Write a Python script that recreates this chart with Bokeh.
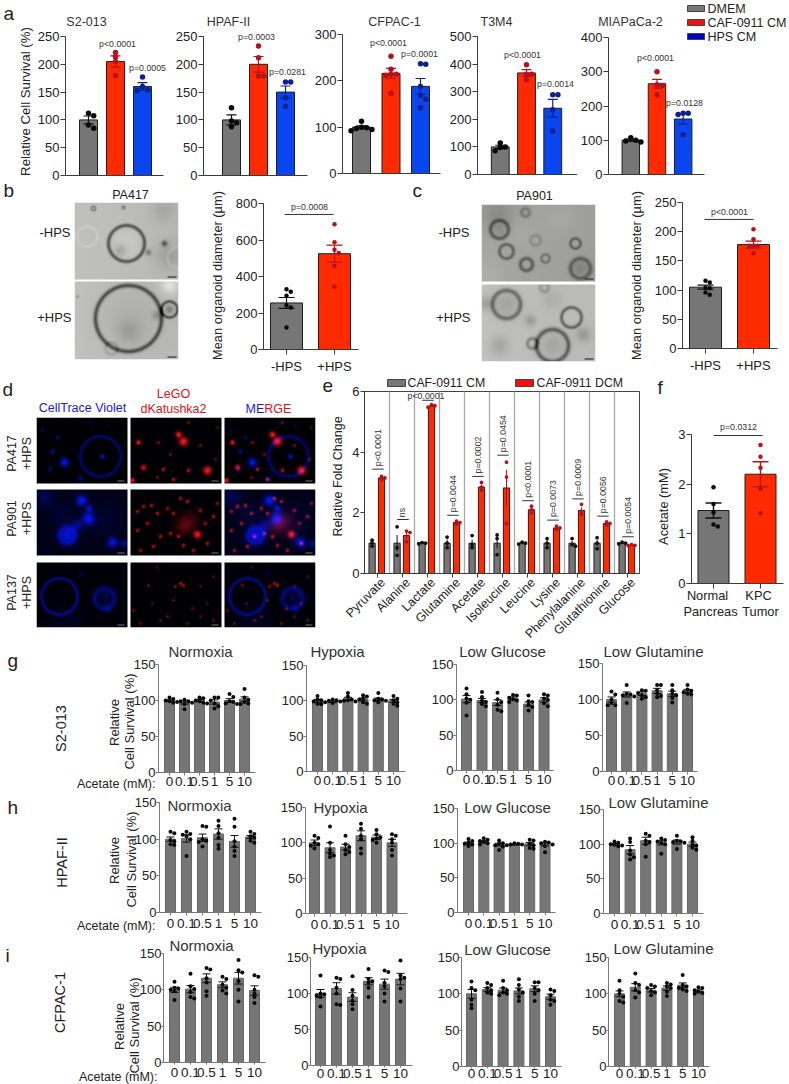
import math
import numpy as np
from bokeh.plotting import figure
from bokeh.layouts import row, column
from bokeh.embed import file_html
from bokeh.resources import INLINE
from bokeh.models import Range1d, FixedTicker, Label

FONT = "Liberation Sans"
GRAY, RED, BLUE = "#767676", "#ff2a00", "#0a46f0"
DOT_K, DOT_R, DOT_B = "#0a0a0a", "#b5121b", "#10218b"

# ---------- panel a data ----------
a_names = ["S2-013", "HPAF-II", "CFPAC-1", "T3M4", "MIAPaCa-2"]
a_legend = ["DMEM", "CAF-0911 CM", "HPS CM"]
s2013_means = [100, 205, 160]
s2013_sems = [7, 10, 7]
s2013_dots = [[112, 107.6, 91, 85], [221, 213, 205, 180], [177, 160, 154, 153]]
hpaf_means = [100, 200, 150]
hpaf_sems = [9, 14, 11]
hpaf_dots = [[122, 98, 95, 87.5], [233, 212, 179, 179], [168, 168, 140, 124]]
cfpac_means = [100, 216, 188]
cfpac_sems = [3, 11, 17]
cfpac_dots = [[113, 100, 99, 97, 95, 92], [253, 225, 214, 214, 212, 173], [237, 236, 188, 169, 160, 142]]
t3m4_means = [100, 368, 240]
t3m4_sems = [6, 12, 32]
t3m4_dots = [[114, 100, 98, 86], [398, 363, 363, 343], [289, 289, 235, 158]]
mia_means = [100, 265, 162]
mia_sems = [3, 13, 15]
mia_dots = [[107.5, 100, 98, 95], [300, 262, 260, 233], [179, 179, 175, 116]]

# ---------- panels b, c, f data ----------
b_means = [255, 525]
b_sems = [30, 47]
b_dots = [[330, 317, 294, 243, 230, 120], [686, 588, 546, 529, 458, 344]]
c_means = [105, 178]
c_sems = [3.5, 6]
c_dots = [[116, 113, 104, 103, 96, 92], [204, 187, 176, 176, 176, 163]]
f_means = [1.47, 2.2]
f_sems = [0.15, 0.25]
f_dots = [[1.94, 1.6, 1.43, 1.19, 1.15], [2.79, 2.55, 2.33, 1.91, 1.42]]

# ---------- panel e data ----------
e_names = ["Pyruvate", "Alanine", "Lactate", "Glutamine", "Acetate", "Isoleucine",
           "Leucine", "Lysine", "Phenylalanine", "Glutathionine", "Glucose"]
e_pvals = ["p<0.0001", "ns", "p<0.0001", "p=0.0044", "p=0.0002", "p=0.0454",
           "p<0.0001", "p=0.0073", "p=0.0009", "p=0.0056", "p=0.0054"]
e_bracket = [3.44, 1.78, 5.71, 1.92, 3.2, 3.9, 2.4, 1.76, 2.46, 1.89, 1.21]
e_gray_means = [1, 1, 1, 1, 1, 1, 1, 1, 1, 1, 1]
e_gray_sems = [.05, .27, .01, .12, .12, .18, .02, .1, .08, .1, .02]
e_gray_dots = [[1.1, 1.0, .9], [1.54, .85, .6], [1.02, 1.0, .98], [1.2, 1.0, .85], [1.25, .95, .85],
               [1.27, 1.15, .62], [1.03, 1.0, .97], [1.15, 1.0, .85], [1.15, .95, .9], [1.18, 1.0, .82], [1.03, 1.0, .98]]
e_red_means = [3.15, 1.25, 5.52, 1.68, 2.85, 2.82, 2.1, 1.5, 2.08, 1.65, .93]
e_red_sems = [.04, .12, .03, .03, .08, .6, .07, .03, .1, .03, .01]
e_red_dots = [[3.2, 3.15, 3.1], [1.4, 1.35, 1.05], [5.57, 5.53, 5.48], [1.73, 1.68, 1.63], [3.0, 2.85, 2.75],
              [3.67, 3.18, 1.65], [2.22, 2.1, 2.0], [1.56, 1.5, 1.45], [2.28, 2.05, 1.95], [1.7, 1.65, 1.6], [.95, .93, .92]]

# ---------- panels g, h, i data ----------
doses = ["0", "0.1", "0.5", "1", "5", "10"]
g_norm_m = [100, 97, 100, 98, 100, 102]
g_norm_s = [1, 2, 1.5, 3, 2.5, 3]
g_norm_d = [[104, 102, 100, 99, 98, 97], [101, 99, 99, 97, 95, 88], [104, 103, 100, 99, 97, 96],
            [104, 104, 100, 96, 92, 89], [109, 105, 99, 98, 96, 95], [116, 104, 101, 98, 96, 95]]
g_hypo_m = [100, 98.5, 103, 102, 102, 100]
g_hypo_s = [2, 1, 2, 2, 2, 2]
g_hypo_d = [[107, 102, 101, 99, 96, 95], [102, 101, 100, 99, 98, 97], [111, 106, 102, 101, 100, 99],
            [108, 106, 103, 102, 98, 96], [111, 103, 102, 101, 100, 98], [107, 103, 101, 98, 96, 93]]
g_lglc_m = [101, 99, 96, 102, 94, 100]
g_lglc_s = [5, 3, 4, 2, 3, 3]
g_lglc_d = [[116, 108, 102, 100, 96, 78], [111, 104, 99, 97, 94, 91], [110, 101, 97, 93, 86, 84],
            [107, 106, 103, 101, 99, 97], [106, 98, 97, 93, 90, 85], [108, 106, 102, 100, 95, 91]]
g_lgln_m = [100, 107, 108, 112, 108, 112]
g_lgln_s = [3.5, 3.5, 2.5, 3.5, 3.5, 2]
g_lgln_d = [[111, 107, 100, 95, 92, 92], [120, 108, 107, 106, 104, 95], [113, 112, 109, 106, 103, 101],
            [120, 120, 113, 108, 105, 103], [120, 113, 108, 106, 102, 96], [120, 114, 112, 110, 108, 107]]
h_norm_m = [100, 101, 102, 107, 97, 103]
h_norm_s = [3, 5, 5, 7, 8, 2]
h_norm_d = [[110, 108, 99, 97, 93, 92], [110, 107, 106, 104, 100, 77], [118, 117, 100, 98, 96, 90],
            [125, 118, 108, 102, 92, 87], [128, 117, 97, 90, 84, 77], [110, 107, 104, 102, 98, 95]]
h_hypo_m = [100, 93, 94, 110, 108, 100]
h_hypo_s = [4, 7, 4, 7, 3, 5]
h_hypo_d = [[110, 107, 100, 98, 96, 92], [123, 100, 90, 85, 82, 80], [110, 98, 94, 90, 87, 84],
            [127, 120, 110, 105, 92, 85], [118, 112, 108, 106, 104, 100], [112, 110, 105, 100, 90, 82]]
h_lglc_m = [100, 102, 98, 98, 99, 98]
h_lglc_s = [1.5, 1.5, 2, 1, 2, 2]
h_lglc_d = [[106, 103, 101, 99, 98, 96], [107, 105, 103, 102, 100, 98], [104, 100, 99, 97, 95, 90],
            [100, 99, 98, 98, 97, 96], [105, 104, 99, 97, 93, 92], [102, 101, 100, 98, 96, 87]]
h_lgln_m = [100, 92, 105, 102, 103, 100]
h_lgln_s = [1, 6, 5, 3, 3, 3]
h_lgln_d = [[104, 102, 100, 99, 98, 97], [108, 103, 91, 85, 81, 78], [115, 112, 105, 103, 100, 82],
            [108, 106, 104, 102, 100, 86], [112, 105, 104, 103, 102, 93], [110, 105, 100, 98, 95, 92]]
i_norm_m = [100, 101, 116, 107, 116, 99]
i_norm_s = [3.5, 5, 6, 4, 8, 6.5]
i_norm_d = [[111, 103, 102, 100, 98, 86], [122, 105, 101, 97, 90, 88], [130, 128, 116, 110, 98, 92],
            [118, 115, 107, 103, 99, 95], [141, 127, 124, 112, 100, 84], [120, 118, 100, 95, 90, 82]]
i_hypo_m = [100, 107, 95, 117, 113, 120]
i_hypo_s = [5.5, 8, 6, 5, 7, 8]
i_hypo_d = [[125, 100, 99, 97, 95, 82], [122, 120, 108, 100, 85, 84], [124, 105, 97, 90, 85, 78],
            [134, 120, 117, 115, 108, 95], [132, 130, 115, 110, 100, 89], [146, 125, 122, 120, 107, 89]]
i_lglc_m = [100, 106, 105, 104, 107, 96]
i_lglc_s = [6, 2.5, 3, 4, 4, 3.5]
i_lglc_d = [[117, 108, 105, 92, 85, 80], [115, 112, 108, 105, 102, 100], [118, 108, 105, 102, 100, 98],
            [120, 112, 106, 102, 96, 90], [116, 116, 108, 105, 100, 90], [106, 104, 98, 92, 90, 85]]
i_lgln_m = [100, 109, 105, 108, 112, 104]
i_lgln_s = [4, 5, 2.5, 3, 3, 1.5]
i_lgln_d = [[118, 105, 100, 96, 90, 88], [128, 115, 112, 105, 102, 95], [112, 110, 108, 104, 102, 98],
            [115, 113, 110, 108, 103, 97], [126, 112, 110, 108, 106, 104], [109, 108, 105, 103, 101, 100]]

# ---------- micrograph sketches (x, y, radius, strength in the tile's own pixels) ----------
d_r1_blue = [(28, 45, 3, 1), (66, 39, 1.5, 1), (21, 20, 1.2, .6), (16, 34, 1.5, .7), (44, 61, 2, .5), (14, 50, 1, .6),
             (14, 53, 1, .5), (6, 13, 1, .5), (54, 5, 1, .5), (71, 8, 1, .4)]
d_r1_ring = [(64, 39, 20, 1.3, .42)]
d_r1_red = [(53, 24, 3, 1.0), (48, 17, 2, 1), (8, 25, 1.6, 1), (77, 53, 2.8, 1), (13, 50, 2, .8), (33, 52, 1.3, .8),
            (58, 53, 1.3, .8), (2, 63, 1.6, 1), (28, 25, 1, .7), (58, 5, .9, .7), (87, 10, .9, .5), (43, 62, 1.3, .8),
            (70, 28, .9, .7), (40, 37, .9, .7), (85, 42, .9, .6), (27, 60, .9, .7)]
d_r2_blue = [(45, 11, 3.5, 1), (52, 29, 4, 1), (31, 46, 6, .85), (76, 53, 3.5, .85), (53, 19, 2.5, .7), (41, 36, 4, .45),
             (88, 54, 2.5, .5), (8, 8, 6, .25), (25, 25, 9, .12), (70, 30, 12, .1)]
d_r2_ring = [(31, 46, 8, 1.5, .3)]
d_r2_red = [(13, 17, 1.2, .8), (21, 16, 1.2, .8), (7, 22, 1.2, .7), (27, 24, 1.2, .8), (50, 9, 1.2, .8), (57, 12, 1.2, .8),
            (37, 19, 1.2, .7), (43, 24, 1.2, .8), (67, 45, 2.5, 1), (53, 37, 6, .25), (60, 31, 7, .2), (7, 41, 1.2, .8),
            (23, 57, 1.2, .8), (30, 47, 1.2, .8), (53, 56, 1.2, .8), (77, 54, 1.2, .8), (83, 27, 1.2, .8), (70, 21, 1.2, .7),
            (87, 14, 1.1, .7), (10, 61, 1.2, .7), (40, 44, 1.2, .8), (17, 34, 1.2, .8), (63, 61, 1.2, .8), (48, 47, 1.2, .8),
            (75, 34, 1.2, .7)]
d_r3_blue = [(69, 35, 4, .3), (71, 46, 3, .25), (44, 11, 2, .2), (30, 60, 12, .1)]
d_r3_ring = [(23, 34, 18, 1.2, .5), (68, 36, 10, 2, .42)]
d_r3_red = [(50, 21, 1.1, .8), (53, 23, 1.1, .8), (45, 24, 1, .7), (18, 23, 1, .6), (3, 48, .9, .6), (10, 61, .9, .6),
            (30, 58, .9, .6), (62, 46, .9, .6), (43, 38, .9, .6), (77, 41, .9, .5), (70, 24, .9, .5), (83, 14, .9, .5),
            (37, 54, .9, .6), (27, 5, .9, .4), (22, 41, .9, .5), (57, 61, .9, .6), (83, 58, .9, .6), (70, 54, .9, .5)]

b_top_rings = [(52, 41, 18, 1.3, -110), (19, 6, 2, .7, -70), (49, 5, 1.3, .6, -70), (13, 34, 10, 1, 12), (103, 55, 10, 1, 15)]
b_top_blobs = [(52, 41, 12, 12), (46, 48, 4, -30), (90, 41, 2, -100), (74, 50, 2, -70), (89, 8, 8, -18), (95, 53, 10, -25)]
b_bot_rings = [(54, 37, 33, 1.5, -110), (95, 28, 8, 1, -110), (37, 67, 6, 1, -25)]
b_bot_blobs = [(54, 37, 25, -14), (55, 50, 8, -22), (95, 28, 3, -60), (82, 34, 3, -40), (95, 4, 6, 40), (3, 15, 1, -50)]
c_top_rings = [(18, 25, 9, 1.4, -70), (25, 47, 7, 1.2, -70), (45, 60, 6, 1.4, -70), (94, 39, 5, 1, -70), (99, 64, 10, 1.5, -60),
               (64, 54, 4, 1, -50), (44, 8, 4, 1.4, -40), (54, 36, 5, 1.2, -25)]
c_top_blobs = [(16, 9, 12, -25), (99, 64, 6, -30), (18, 25, 5, -15), (80, 15, 10, 8), (40, 30, 10, 6), (5, 70, 12, 8)]
c_bot_rings = [(25, 20, 14, 1.6, -75), (90, 33, 10, 1.2, -90), (71, 61, 16, 1.6, -90), (51, 59, 5, 1.2, -60), (63, 3, 4, 1.4, -35)]
c_bot_blobs = [(25, 20, 10, -28), (49, 36, 4, -35), (102, 50, 5, -35), (4, 19, 5, -30), (18, 61, 7, -25), (71, 61, 10, -22), (70, 15, 8, -14)]

PAGE_W, PAGE_H = 789, 1084

# ---------- helpers ----------
frames = {}

# transparent sheet over the whole page; it carries titles, letters, p-values and legends in page pixels
sheet = figure(width=PAGE_W, height=PAGE_H, x_range=Range1d(0, PAGE_W), y_range=Range1d(PAGE_H, 0),
               min_border=0, toolbar_location=None, output_backend="svg", tools="", frame_align=False,
               x_axis_location=None, y_axis_location=None, outline_line_color=None,
               background_fill_color=None, border_fill_color=None, margin=(-PAGE_H, 0, 0, 0))
sheet.grid.visible = False


def make_fig(box, frame, xr, yr, axes=True):
    x0, y0, x1, y1 = box
    fx0, fy0, fx1, fy1 = frame
    p = figure(width=x1 - x0, height=y1 - y0, x_range=Range1d(*xr), y_range=Range1d(*yr),
               min_border_left=fx0 - x0, min_border_right=x1 - fx1, min_border_top=fy0 - y0, min_border_bottom=y1 - fy1,
               toolbar_location=None, output_backend="svg", tools="", outline_line_color=None, frame_align=False,
               x_axis_location="below" if axes else None, y_axis_location="left" if axes else None)
    p.grid.visible = False
    frames[id(p)] = (frame, xr, yr)
    return p


def note(px, py, text, size=12.5, color="#222222", align="center", angle=0.0, baseline="middle"):
    sheet.add_layout(Label(x=px, y=py, text=text, text_font=FONT, text_font_size=f"{size}px", text_color=color,
                           text_align=align, text_baseline=baseline, angle=angle))


def swatch(x0, x1, y0, y1, color):
    sheet.quad(left=[x0], right=[x1], top=[y0], bottom=[y1], fill_color=color, line_color="#444444", line_width=1)


def swarm(vals, d_px, ppu):
    placed = []
    for v in sorted(vals, reverse=True):
        for k in (0, 1, -1, 2, -2, 3, -3):
            off = k * d_px * 0.95
            if all((off - o) ** 2 + ((v - w) * ppu) ** 2 >= (d_px * 0.8) ** 2 for o, w in placed):
                placed.append((off, v))
                break
    return placed


def style_axes(p, yticks, xticks=None, xlabels=None, tick=5, standoff=1, size=13, axis_color="#3a3a3a", xstand=4, xsize=None):
    ya, xa = p.yaxis[0], p.xaxis[0]
    ya.ticker = FixedTicker(ticks=yticks)
    xa.ticker = FixedTicker(ticks=xticks or [])
    if xticks:
        xa.major_label_overrides = {t: l for t, l in zip(xticks, xlabels)}
    for ax in (ya, xa):
        ax.axis_line_color = axis_color
        ax.major_tick_line_color = axis_color
        ax.minor_tick_line_color = None
        ax.major_tick_out = tick
        ax.major_tick_in = 0
        ax.major_label_text_font = FONT
        ax.major_label_text_color = "#222222"
        ax.major_label_text_font_size = f"{size}px"
    ya.major_label_standoff = standoff
    xa.major_label_standoff = xstand
    if xsize:
        xa.major_label_text_font_size = f"{xsize}px"


def bar_panel(box, frame, c0, dx, bw, ymax, means, sems, dots, colors, dcolors, ecolors, yticks, xlabels=None,
              dot=5.5, cap=5, line="#1e1e1e", ew=1.2, **axkw):
    fx0, fy0, fx1, fy1 = frame
    xr = (1 - (c0 - fx0) / dx, 1 + (fx1 - c0) / dx)
    p = make_fig(box, frame, xr, (0, ymax))
    ppu = (fy1 - fy0) / ymax
    for i, m in enumerate(means):
        x = i + 1
        p.vbar(x=[x], top=[m], width=bw / dx, fill_color=colors[i], line_color=line, line_width=1)
        s = sems[i]
        p.segment(x0=[x, x - cap / dx, x - cap / dx], y0=[m - s, m + s, m - s],
                  x1=[x, x + cap / dx, x + cap / dx], y1=[m + s, m + s, m - s],
                  line_color=ecolors[i], line_width=ew)
        pos = swarm(dots[i], dot, ppu)
        p.scatter(x=[x + o / dx for o, _ in pos], y=[v for _, v in pos], size=dot, marker="circle",
                  fill_color=dcolors[i], line_color=None)
    xticks = list(range(1, len(means) + 1)) if xlabels else None
    style_axes(p, yticks, xticks, xlabels, **axkw)
    return p


def tri(means, sems, dots, box, frame, c0, dx, ymax, yticks):
    return bar_panel(box, frame, c0, dx, 18, ymax, means, sems, dots, [GRAY, RED, BLUE], [DOT_K, DOT_R, DOT_B],
                     ["#111111", DOT_R, DOT_B], yticks)


def photo_fig(box, frame):
    fx0, fy0, fx1, fy1 = frame
    return make_fig(box, frame, (0, fx1 - fx0), (0, fy1 - fy0), axes=False)


def grids(w, h):
    return np.meshgrid(np.arange(w) + .5, np.arange(h) + .5)


def put_tile(p, rgb, tx, ty):
    (fx0, fy0, fx1, fy1), _, _ = frames[id(p)]
    h, w = rgb.shape[:2]
    rgba = np.dstack([np.clip(rgb, 0, 255), np.full((h, w), 255.0)]).astype(np.uint8)
    img = rgba[::-1].copy().view(np.uint32).reshape(h, w)
    p.image_rgba(image=[img], x=[tx - fx0], y=[fy1 - ty - h], dw=[w], dh=[h])


def gray_tile(w, h, bg, rings, blobs):
    X, Y = grids(w, h)
    v = np.full((h, w), float(bg)) + (X / w - .5) * -8
    for cx, cy, r, wd, a in rings:
        v += a * np.exp(-((np.hypot(X - cx, Y - cy) - r) ** 2) / (2 * wd ** 2))
    for cx, cy, r, a in blobs:
        v += a * np.exp(-((X - cx) ** 2 + (Y - cy) ** 2) / (2 * r ** 2))
    rgb = np.dstack([v, v, v * .98])
    rgb[h - 3:h - 2, w - 11:w - 2] = 25
    return rgb


def fluo_tile(w, h, blue=(), rings=(), red=(), haze=0.0):
    X, Y = grids(w, h)
    bl = np.full((h, w), haze)
    rd = np.zeros((h, w))
    for cx, cy, r, wd, a in rings:
        bl += a * np.exp(-((np.hypot(X - cx, Y - cy) - r) ** 2) / (2 * wd ** 2))
    for cx, cy, r, a in blue:
        bl += a * np.exp(-((X - cx) ** 2 + (Y - cy) ** 2) / (2 * r ** 2))
    for cx, cy, r, a in red:
        rd += a * np.exp(-((X - cx) ** 2 + (Y - cy) ** 2) / (2 * r ** 2))
    bl, rd = np.clip(bl, 0, 1), np.clip(rd, 0, 1)
    rgb = np.dstack([255 * rd + 6 * bl, 25 * rd + 20 * bl, 30 * rd + 235 * bl + 4])
    rgb[h - 3:h - 2, w - 10:w - 3] = 120
    return rgb


# ---------- band a ----------
Y250 = [0, 50, 100, 150, 200, 250]
a1 = tri(s2013_means, s2013_sems, s2013_dots, (0, 0, 172, 185), (65, 36, 163, 175), 88, 27, 250, Y250)
a2 = tri(hpaf_means, hpaf_sems, hpaf_dots, (172, 0, 311, 185), (203, 36, 307, 175), 231, 27, 250, Y250)
a3 = tri(cfpac_means, cfpac_sems, cfpac_dots, (311, 0, 446, 185), (342, 34, 440, 173), 361, 29.5, 300, [0, 100, 200, 300])
a4 = tri(t3m4_means, t3m4_sems, t3m4_dots, (446, 0, 577, 185), (476, 36, 577, 174), 499, 26.5, 500, [0, 100, 200, 300, 400, 500])
a5 = tri(mia_means, mia_sems, mia_dots, (577, 0, 789, 185), (605, 37, 704, 174), 628, 27, 400, [0, 100, 200, 300, 400])
note(3, 13, "a", 19, align="left")
note(25, 101, "Relative Cell Survival (%)", 13.2, angle=math.pi / 2)
for px, name in zip([86, 228, 394, 496, 630], a_names):
    note(px, 21, name, 12.5, "#333333")
for px, py, t in [(117, 43, "p<0.0001"), (147, 67, "p=0.0005"), (256, 36, "p=0.0003"), (287, 71, "p=0.0281"),
                  (388, 42, "p<0.0001"), (419, 53, "p=0.0001"), (522, 54, "p<0.0001"), (555, 83, "p=0.0014"),
                  (655, 57, "p<0.0001"), (684, 102, "p=0.0128")]:
    note(px, py, t, 8.8, "#333333")
for y_, col, lab in zip([8, 22, 36], ["#777777", "#f01010", "#0000cc"], a_legend):
    swatch(687, 704, y_ - 3, y_ + 3, col)
    note(707, y_, lab, 12.5, align="left")
band_a = row(a1, a2, a3, a4, a5)

# ---------- band b, c ----------
pb = photo_fig((0, 185, 200, 376), (74, 202, 178, 359))
put_tile(pb, gray_tile(104, 77, 188, b_top_rings, b_top_blobs), 74, 202)
put_tile(pb, gray_tile(104, 78, 190, b_bot_rings, b_bot_blobs), 74, 281)
note(3, 190, "b", 19, align="left")
note(130, 194, "PA417", 12.5)
note(70, 232, "-HPS", 13, align="right")
note(71, 317, "+HPS", 13, align="right")
cb = bar_panel((200, 185, 400, 376), (263, 203, 358, 349), 286, 48, 32, 800, b_means, b_sems, b_dots, [GRAY, RED], [DOT_K, DOT_R],
               ["#111111", DOT_R], [0, 200, 400, 600, 800], ["-HPS", "+HPS"], dot=4.5, cap=8)
cb.segment(x0=[.96], x1=[1.98], y0=[740], y1=[740], line_color="#333333", line_width=1)
note(217, 275, "Mean organoid diameter (µm)", 12.8, angle=math.pi / 2)
note(309, 206, "p=0.0008", 8.8, "#333333")

pc = photo_fig((400, 185, 625, 376), (481, 204, 595, 361))
put_tile(pc, gray_tile(114, 77, 162, c_top_rings, c_top_blobs), 481, 204)
put_tile(pc, gray_tile(114, 77, 190, c_bot_rings, c_bot_blobs), 481, 284)
note(412, 190, "c", 19, align="left")
note(534, 195, "PA901", 12.5)
note(469, 232, "-HPS", 13, align="right")
note(470, 317, "+HPS", 13, align="right")
cc = bar_panel((625, 185, 789, 376), (682, 202, 777, 348), 705, 48, 32, 250, c_means, c_sems, c_dots, [GRAY, RED], [DOT_K, DOT_R],
               ["#111111", DOT_R], [0, 50, 100, 150, 200, 250], ["-HPS", "+HPS"], dot=4.5, cap=8)
cc.segment(x0=[.98], x1=[2.0], y0=[221], y1=[221], line_color="#333333", line_width=1)
note(636, 275, "Mean organoid diameter (µm)", 12.8, angle=math.pi / 2)
note(729, 211, "p<0.0001", 8.8, "#333333")
band_b = row(pb, cb, pc, cc)

# ---------- band d, e, f ----------
pd_ = photo_fig((0, 376, 322, 644), (36, 417, 315, 627))
rows_y = [(417, 66), (489, 66), (562, 65)]
sets = [(d_r1_blue, d_r1_ring, d_r1_red, 0.0), (d_r2_blue, d_r2_ring, d_r2_red, 0.08), (d_r3_blue, d_r3_ring, d_r3_red, 0.02)]
for (ty, th), (bb, rr, re, hz) in zip(rows_y, sets):
    put_tile(pd_, fluo_tile(91, th, blue=bb, rings=rr, haze=hz), 36, ty)
    put_tile(pd_, fluo_tile(91, th, red=re), 130, ty)
    put_tile(pd_, fluo_tile(91, th, blue=bb, rings=rr, red=re, haze=hz), 224, ty)
note(2, 389, "d", 19, align="left")
note(82, 407, "CellTrace Violet", 12.5, "#1a1acc")
note(173, 393, "LeGO", 12.5, "#e01020")
note(173, 408, "dKatushka2", 12.5, "#e01020")
note(245, 408, "ME", 12.5, "#1a1acc", align="left")
note(263.8, 408, "RGE", 12.5, "#e01020", align="left")
for y_, nm in zip([453, 518, 592], ["PA417", "PA901", "PA137"]):
    note(11, y_, nm, 12.5, angle=math.pi / 2)
    note(26, y_, "+HPS", 12.5, angle=math.pi / 2)

pe = make_fig((322, 376, 655, 644), (364, 391, 639, 573), (0, 11), (0, 6))
pe.outline_line_color = "#444444"
e_seps = list(range(1, 11))
pe.segment(x0=e_seps, x1=e_seps, y0=[0] * 10, y1=[6] * 10, line_color="#aaaaaa", line_width=1.3)
e_x = [i + .5 for i in range(11)]
GO, RO = -4.9 / 25, 4.5 / 25
pe.vbar(x=[x + GO for x in e_x], top=e_gray_means, width=.25, fill_color=GRAY, line_color="#1e1e1e")
pe.vbar(x=[x + RO for x in e_x], top=e_red_means, width=.25, fill_color=RED, line_color="#1e1e1e")
for off, means, sems, dots, col in [(GO, e_gray_means, e_gray_sems, e_gray_dots, "#111111"), (RO, e_red_means, e_red_sems, e_red_dots, DOT_R)]:
    xs = [x + off for x in e_x]
    pe.segment(x0=xs, x1=xs, y0=[m - s for m, s in zip(means, sems)], y1=[m + s for m, s in zip(means, sems)], line_color=col, line_width=1)
    for x, ds in zip(xs, dots):
        pos = swarm(ds, 3.6, 182 / 6)
        pe.scatter(x=[x + o / 25 for o, _ in pos], y=[v for _, v in pos], size=3.8, marker="circle", fill_color=col, line_color=None)
pe.segment(x0=[x - .19 for x in e_x], x1=[x + .27 for x in e_x], y0=e_bracket, y1=e_bracket, line_color="#333333", line_width=1)
style_axes(pe, [0, 2, 4, 6], e_x, [""] * 11, size=13, tick=4)
pe.xaxis[0].major_label_text_font_size = "1px"
pe.xaxis[0].major_label_standoff = 0
for cx_, nm in zip(e_x, e_names):
    note(364 + cx_ * 25 + 6, 580, nm, 12.5, align="right", angle=math.pi / 4)
for i, (t, yb) in enumerate(zip(e_pvals, e_bracket)):
    px = 364 + e_x[i] * 25
    py = 573 - yb * 182 / 6
    if t == "ns":
        note(px, py - 7, t, 8.8, "#333333", angle=math.pi / 2)
    elif i == 2:
        note(px - 1, py - 4, t, 8.8, "#333333")
    else:
        note(px + 1, py - 3, t, 8.8, "#333333", angle=math.pi / 2, align="left")
note(322, 385, "e", 19, align="left")
note(337, 476, "Relative Fold Change", 12.5, angle=math.pi / 2)
swatch(387, 405, 379, 386, "#777777")
note(407, 382, "CAF-0911 CM", 12.3, align="left")
swatch(515, 533, 379, 386, "#f01010")
note(536, 382, "CAF-0911 DCM", 12.3, align="left")

pf = bar_panel((655, 376, 789, 644), (691, 434, 783, 583), 713, 47, 31, 3, f_means, f_sems, f_dots, [GRAY, RED], [DOT_K, DOT_R],
               ["#111111", DOT_R], [0, 1, 2, 3], ["", ""], dot=4.5, cap=8, ew=1.4)
pf.segment(x0=[1.0], x1=[2.04], y0=[2.98], y1=[2.98], line_color="#333333", line_width=1)
for x_, y_, t_ in [(707, 595, "Normal"), (710, 611, "Pancreas"), (758, 595, "KPC"), (760, 611, "Tumor")]:
    note(x_, y_, t_, 12.8)
note(657, 387, "f", 19, align="left")
note(663, 506, "Acetate (mM)", 12.8, angle=math.pi / 2)
note(738, 426, "p=0.0312", 8.8, "#333333")
band_d = row(pd_, pe, pf)


# ---------- bands g, h, i ----------
def small(box, ax_x, top, zero, end, c0, dx, m, s, d, tick=3, stand=1):
    return bar_panel(box, (ax_x, top, end, zero), c0, dx, 10, 150, m, s, d, [GRAY] * 6, [DOT_K] * 6, ["#111111"] * 6,
                     [0, 50, 100, 150], doses, dot=4, cap=4, line="#666666", ew=1, tick=tick, standoff=0, size=13,
                     axis_color="#777777", xstand=stand, xsize=13.5)


g1 = small((0, 644, 263, 792), 158, 664, 772, 255, 169, 15, g_norm_m, g_norm_s, g_norm_d)
g2 = small((263, 644, 412, 792), 306, 665, 771, 405, 317, 15.2, g_hypo_m, g_hypo_s, g_hypo_d)
g3 = small((412, 644, 562, 792), 456, 664, 770, 553, 466, 15.5, g_lglc_m, g_lglc_s, g_lglc_d)
g4 = small((562, 644, 789, 792), 602, 663, 771, 697, 611, 15.2, g_lgln_m, g_lgln_s, g_lgln_d)
h1 = small((0, 792, 268, 936), 159, 802, 912, 261, 170, 16, h_norm_m, h_norm_s, h_norm_d, 3, 3)
h2 = small((268, 792, 415, 936), 305, 807, 913, 407, 314, 15.5, h_hypo_m, h_hypo_s, h_hypo_d, 3, 3)
h3 = small((415, 792, 565, 936), 457, 808, 912, 555, 468, 15.3, h_lglc_m, h_lglc_s, h_lglc_d, 3, 3)
h4 = small((565, 792, 789, 936), 603, 809, 913, 703, 614, 15.6, h_lgln_m, h_lgln_s, h_lgln_d, 3, 3)
i1 = small((0, 936, 272, 1084), 163, 953, 1062, 265, 174, 16, i_norm_m, i_norm_s, i_norm_d, 2, 3)
i2 = small((272, 936, 418, 1084), 310, 957, 1065, 412, 320, 16, i_hypo_m, i_hypo_s, i_hypo_d, 2, 1)
i3 = small((418, 936, 570, 1084), 461, 957, 1066, 561, 471, 15.8, i_lglc_m, i_lglc_s, i_lglc_d, 2, 0)
i4 = small((570, 936, 789, 1084), 608, 957, 1066, 709, 619, 15.8, i_lgln_m, i_lgln_s, i_lgln_d, 2, 0)

titles = ["Normoxia", "Hypoxia", "Low Glucose", "Low Glutamine"]
for xs, ys in [([200, 337, 502, 653], [651, 651, 651, 651]),
               ([199, 340, 507, 658], [805, 807, 807, 802]),
               ([201, 339, 507, 663], [945, 948, 949, 948])]:
    for x_, y_, t_ in zip(xs, ys, titles):
        note(x_, y_, t_, 15, "#333333")
for letter, lx, ly, cell, cx, cy, ax_r, ax_y, rel_x, cs_x, rel_y in [
        ("g", 7, 660, "S2-013", 60, 728, 155, 783, 114, 129, 722),
        ("h", 7, 807, "HPAF-II", 61, 862, 155, 925, 114, 131, 860),
        ("i", 5, 955, "CFPAC-1", 59, 1002, 157, 1076, 119, 134, 1026)]:
    note(lx, ly, letter, 19, align="left")
    note(cx, cy, cell, 14.5, angle=math.pi / 2)
    note(ax_r, ax_y, "Acetate (mM):", 12.5, align="right")
    note(rel_x, rel_y, "Relative", 13, angle=math.pi / 2)
    note(cs_x, rel_y - 1, "Cell Survival (%)", 13, angle=math.pi / 2)

root = column(band_a, band_b, band_d, row(g1, g2, g3, g4), row(h1, h2, h3, h4), row(i1, i2, i3, i4), sheet)
open("out.html", "w").write(file_html(root, INLINE))
